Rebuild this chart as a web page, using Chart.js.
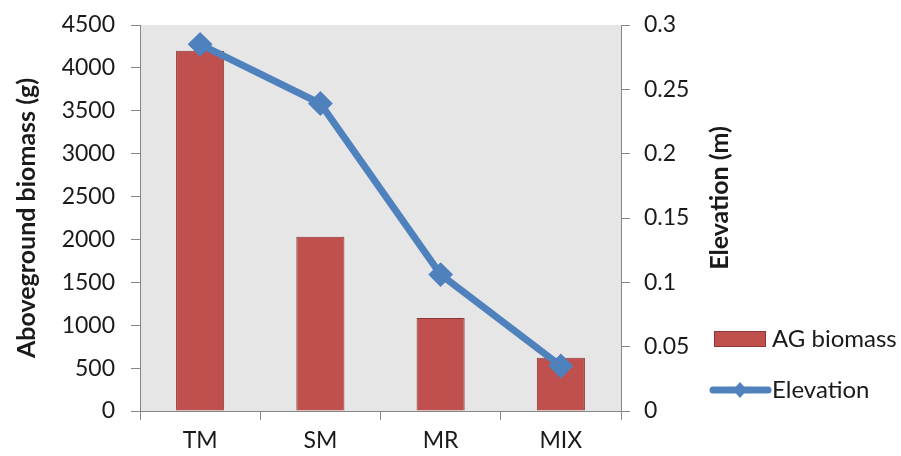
<!DOCTYPE html>
<html>
<head>
<meta charset="utf-8">
<script src="https://cdn.jsdelivr.net/npm/chart.js"></script>
<style>
  html, body { margin: 0; padding: 0; background: #fff; }
</style>
</head>
<body>
<canvas id="chart" width="901" height="456"></canvas>
<script>
const categories = ["TM", "SM", "MR", "MIX"];
const biomass = [4200, 2030, 1085, 620];
const elevation = [0.285, 0.239, 0.106, 0.035];
const biomassTicks = [0, 4500, 500];
const elevationTicks = [0, 0.3, 0.05];

const FONT = "Lato";
const TEXT = "#1a1a1a";
const AXIS = "#868686";
const RED = "#c0504d";
const RED_EDGE = "#8c3836";
const BLUE = "#4f81bd";

// grey plot area like the excel original
const plotBg = {
  id: "plotBg",
  beforeDraw(chart) {
    const { ctx, chartArea: a } = chart;
    ctx.save();
    ctx.fillStyle = "#e6e6e6";
    ctx.fillRect(a.left, a.top, a.right - a.left, a.bottom - a.top);
    ctx.restore();
  }
};

// legend + right axis title drawn by hand (excel rotates it bottom-to-top)
const sideLegend = {
  id: "sideLegend",
  afterDraw(chart) {
    const ctx = chart.ctx;
    ctx.save();
    ctx.fillStyle = RED;
    ctx.strokeStyle = RED_EDGE;
    ctx.lineWidth = 1;
    ctx.fillRect(714, 331, 52, 16);
    ctx.strokeRect(714.5, 331.5, 51, 15);

    ctx.strokeStyle = BLUE;
    ctx.lineWidth = 7;
    ctx.lineCap = "round";
    ctx.beginPath();
    ctx.moveTo(713, 390);
    ctx.lineTo(768, 390);
    ctx.stroke();
    ctx.fillStyle = BLUE;
    ctx.beginPath();
    ctx.moveTo(740, 382);
    ctx.lineTo(747, 390);
    ctx.lineTo(740, 398);
    ctx.lineTo(733, 390);
    ctx.closePath();
    ctx.fill();

    ctx.fillStyle = TEXT;
    ctx.font = "24px " + FONT;
    ctx.textBaseline = "middle";
    ctx.textAlign = "left";
    ctx.fillText("AG biomass", 772, 339);
    ctx.fillText("Elevation", 772, 390);

    ctx.translate(720, 198);
    ctx.rotate(-Math.PI / 2);
    ctx.textAlign = "center";
    ctx.font = "bold 25px " + FONT;
    ctx.fillText("Elevation (m)", 0, 0);
    ctx.restore();
  }
};

// fixed widths, and no extra top/bottom padding from the tick labels
const fixY = (w) => (s) => {
  s.width = w;
  s.paddingTop = 0;
  s.paddingBottom = 0;
};

const draw = () => {
  const ctx = document.getElementById("chart").getContext("2d");
  new Chart(ctx, {
    data: {
      labels: categories,
      datasets: [
        {
          type: "line",
          label: "Elevation",
          data: elevation,
          yAxisID: "y1",
          order: 1,
          borderColor: BLUE,
          backgroundColor: BLUE,
          borderWidth: 7,
          pointStyle: "rectRot",
          pointRadius: 11,
          pointBorderWidth: 2,
          tension: 0
        },
        {
          type: "bar",
          label: "AG biomass",
          data: biomass,
          yAxisID: "y",
          order: 2,
          backgroundColor: RED,
          borderColor: RED_EDGE,
          borderWidth: 1,
          categoryPercentage: 0.4,
          barPercentage: 1
        }
      ]
    },
    options: {
      responsive: false,
      animation: false,
      layout: { padding: { left: 8, top: 25, right: 162, bottom: 0 } },
      plugins: { legend: { display: false }, tooltip: { enabled: false } },
      scales: {
        x: {
          grid: { offset: true, drawOnChartArea: false, tickLength: 9, color: AXIS },
          border: { color: AXIS },
          ticks: { font: { family: FONT, size: 23 }, color: TEXT, padding: 7 },
          afterFit: (s) => { s.height = 45; }
        },
        y: {
          position: "left",
          min: biomassTicks[0],
          max: biomassTicks[1],
          grid: { drawOnChartArea: false, tickLength: 9, color: AXIS },
          border: { color: AXIS },
          ticks: {
            stepSize: biomassTicks[2],
            font: { family: FONT, size: 23 },
            color: TEXT,
            padding: 16,
            callback: (v) => String(v)
          },
          title: {
            display: true,
            text: "Aboveground biomass (g)",
            font: { family: FONT, size: 25, weight: "bold" },
            color: TEXT
          },
          afterFit: fixY(132)
        },
        y1: {
          position: "right",
          min: elevationTicks[0],
          max: elevationTicks[1],
          grid: { drawOnChartArea: false, tickLength: 9, color: AXIS },
          border: { color: AXIS },
          ticks: {
            stepSize: elevationTicks[2],
            font: { family: FONT, size: 23 },
            color: TEXT,
            padding: 14,
            callback: (v) => String(+v.toFixed(2))
          },
          afterFit: fixY(118)
        }
      }
    },
    plugins: [plotBg, sideLegend]
  });
};

Promise.all([
  document.fonts.load("23px " + FONT),
  document.fonts.load("bold 25px " + FONT)
]).then(draw, draw);
</script>
</body>
</html>
